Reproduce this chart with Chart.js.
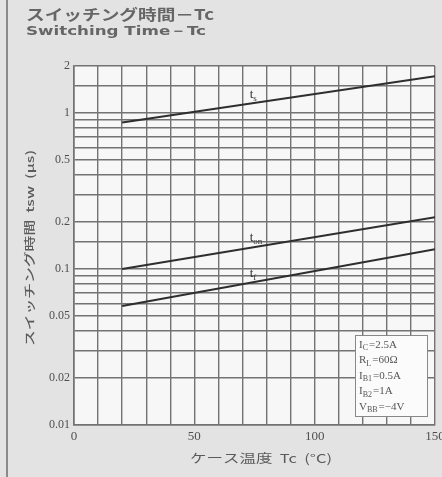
<!DOCTYPE html>
<html>
<head>
<meta charset="utf-8">
<script src="https://cdn.jsdelivr.net/npm/chart.js@4"></script>
<style>
  html, body { margin: 0; padding: 0; background: #e3e3e3; }
  #wrap { width: 442px; height: 477px; }
</style>
</head>
<body>
<div id="wrap"><canvas id="swTime" width="442" height="477"></canvas></div>
<script>
// case temperature Tc (degC) and switching times (us)
const tc = [20, 150];
const tsValues = [0.87, 1.72];
const tonValues = [0.1, 0.215];
const tfValues = [0.058, 0.134];

const xTickLabels = [0, 50, 100, 150];
const yTickLabels = [2, 1, 0.5, 0.2, 0.1, 0.05, 0.02, 0.01];

const titleJa = 'スイッチング時間－Tc';
const titleEn = 'Switching Time－Tc';
const xTitle = 'ケース温度  Tc  (°C)';
const yTitle = 'スイッチング時間  tsw  (μs)';

// measurement conditions: [symbol, subscript, value]
const conditions = [
    ['I', 'C', '=2.5A'],
    ['R', 'L', '=60Ω'],
    ['I', 'B1', '=0.5A'],
    ['I', 'B2', '=1A'],
    ['V', 'BB', '=−4V'],
];

// curve names and where they sit (Tc, time)
const curveNames = [['t', 's'], ['t', 'on'], ['t', 'f']];
const curveLabelAt = [[73, 1.31], [73, 0.158], [73, 0.093]];

const gridColor = '#737373';
const inkColor = '#4f4f4f';

function pts(values) {
    return tc.map((x, i) => ({ x: x, y: values[i] }));
}

// draws text stretched to a given width (the scan uses wide spacing)
function fitText(ctx, text, x, y, w) {
    const m = ctx.measureText(text).width;
    ctx.save();
    ctx.translate(x, y);
    ctx.scale(w / m, 1);
    ctx.fillText(text, 0, 0);
    ctx.restore();
}

function subText(ctx, main, sub, x, y, size) {
    ctx.font = size + 'px "Liberation Serif"';
    ctx.fillText(main, x, y);
    const w = ctx.measureText(main).width;
    ctx.font = Math.round(size * 0.7) + 'px "Liberation Serif"';
    ctx.fillText(sub, x + w, y + size * 0.3);
    return x + w + ctx.measureText(sub).width;
}

const paperPlugin = {
    id: 'paper',
    beforeDraw(chart) {
        const ctx = chart.ctx;
        const a = chart.chartArea;
        ctx.save();
        ctx.fillStyle = '#e3e3e3';
        ctx.fillRect(0, 0, chart.width, chart.height);
        ctx.fillStyle = '#f7f7f7';
        ctx.fillRect(a.left, a.top, a.right - a.left, a.bottom - a.top);
        // page edge of the scan
        ctx.strokeStyle = '#8a8a8a';
        ctx.lineWidth = 2;
        ctx.beginPath();
        ctx.moveTo(7, 0);
        ctx.lineTo(7, chart.height);
        ctx.stroke();
        ctx.restore();
    },
    afterDraw(chart) {
        const ctx = chart.ctx;
        const xs = chart.scales.x;
        const ys = chart.scales.y;
        ctx.save();
        ctx.fillStyle = '#666';
        ctx.textBaseline = 'middle';
        ctx.textAlign = 'left';
        ctx.font = 'bold 15px "Noto Sans CJK JP"';
        fitText(ctx, titleJa, 26, 14, 188);
        ctx.font = 'bold 13px "DejaVu Sans"';
        fitText(ctx, titleEn, 26, 32, 180);

        // axis titles
        ctx.fillStyle = '#5a5a5a';
        ctx.font = '12px "Noto Sans CJK JP"';
        fitText(ctx, xTitle, 190, 458, 142);
        ctx.save();
        ctx.translate(30, 346);
        ctx.rotate(-Math.PI / 2);
        ctx.font = '500 11px "Noto Sans CJK JP"';
        fitText(ctx, yTitle, 0, 0, 196);
        ctx.restore();

        // curve labels
        ctx.fillStyle = '#333';
        curveNames.forEach((n, i) => {
            subText(ctx, n[0], n[1], xs.getPixelForValue(curveLabelAt[i][0]), ys.getPixelForValue(curveLabelAt[i][1]), 13);
        });

        // conditions box
        const bx = 355, by = 335, bw = 72, bh = 81;
        ctx.fillStyle = '#fbfbfb';
        ctx.fillRect(bx, by, bw, bh);
        ctx.strokeStyle = '#888';
        ctx.lineWidth = 1;
        ctx.strokeRect(bx + 0.5, by + 0.5, bw, bh);
        ctx.fillStyle = '#555';
        conditions.forEach((c, i) => {
            const y = by + 10 + i * 15.5;
            let x = subText(ctx, c[0], c[1], bx + 4, y, 11);
            ctx.font = '11px "Liberation Serif"';
            ctx.fillText(c[2], x + 1, y);
        });
        ctx.restore();
    }
};

const lineStyle = {
    borderColor: '#2e2e2e',
    borderWidth: 2,
    pointRadius: 0,
    fill: false,
    tension: 0,
};

new Chart(document.getElementById('swTime').getContext('2d'), {
    type: 'line',
    data: {
        datasets: [
            Object.assign({ label: 'ts', data: pts(tsValues) }, lineStyle),
            Object.assign({ label: 'ton', data: pts(tonValues) }, lineStyle),
            Object.assign({ label: 'tf', data: pts(tfValues) }, lineStyle),
        ],
    },
    options: {
        responsive: false,
        animation: false,
        layout: { padding: { left: 0, top: 66, right: 7, bottom: 0 } },
        plugins: {
            legend: { display: false },
            title: { display: false },
            tooltip: { enabled: false },
        },
        scales: {
            x: {
                type: 'linear',
                min: 0,
                max: 150,
                grid: { color: gridColor, lineWidth: 1.4, drawTicks: false },
                border: { color: gridColor, width: 1.6 },
                ticks: {
                    stepSize: 10,
                    autoSkip: false,
                    maxRotation: 0,
                    padding: 4,
                    color: inkColor,
                    font: { family: 'Liberation Serif', size: 13 },
                    callback: (v) => xTickLabels.includes(v) ? String(v) : '',
                },
                afterFit(s) {
                    s.height = 52;
                    s.paddingLeft = 0;
                    s.paddingRight = 0;
                },
            },
            y: {
                type: 'logarithmic',
                min: 0.01,
                max: 2,
                grid: { color: gridColor, lineWidth: 1.4, drawTicks: false },
                border: { color: gridColor, width: 1.6 },
                ticks: {
                    autoSkip: false,
                    padding: 4,
                    color: inkColor,
                    font: { family: 'Liberation Serif', size: 12 },
                    callback: (v) => {
                        const hit = yTickLabels.find((t) => Math.abs(t - v) < t * 1e-6);
                        return hit !== undefined ? String(hit) : '';
                    },
                },
                afterFit(s) {
                    s.width = 74;
                    s.paddingTop = 0;
                    s.paddingBottom = 0;
                },
            },
        },
    },
    plugins: [paperPlugin],
});
</script>
</body>
</html>
